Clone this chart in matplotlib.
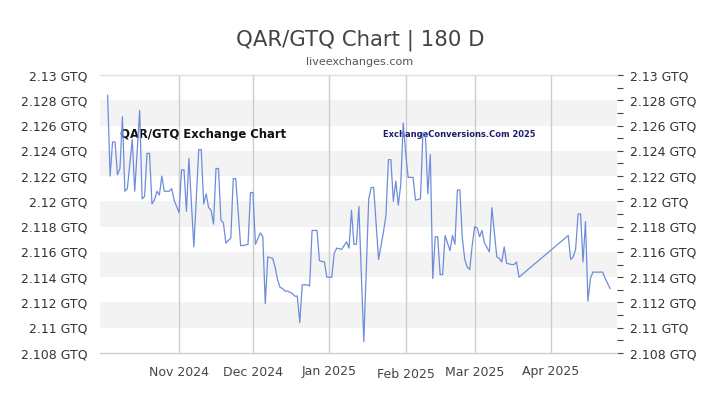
import matplotlib
matplotlib.use('Agg')
import matplotlib.pyplot as plt
import matplotlib.ticker as mticker
import matplotlib.transforms as mtransforms
import pandas as pd

dates = [
    '2024-10-03', '2024-10-04', '2024-10-05', '2024-10-06', '2024-10-07', '2024-10-08', '2024-10-09',
    '2024-10-10', '2024-10-11', '2024-10-13', '2024-10-14', '2024-10-16', '2024-10-17', '2024-10-18',
    '2024-10-19', '2024-10-20', '2024-10-21', '2024-10-22', '2024-10-23', '2024-10-24', '2024-10-25',
    '2024-10-26', '2024-10-28', '2024-10-29', '2024-10-30', '2024-11-01', '2024-11-02', '2024-11-03',
    '2024-11-04', '2024-11-05', '2024-11-07', '2024-11-09', '2024-11-10', '2024-11-11', '2024-11-12',
    '2024-11-13', '2024-11-14', '2024-11-15', '2024-11-16', '2024-11-17', '2024-11-18', '2024-11-19',
    '2024-11-20', '2024-11-22', '2024-11-23', '2024-11-24', '2024-11-26', '2024-11-27', '2024-11-29',
    '2024-11-30', '2024-12-01', '2024-12-02', '2024-12-04', '2024-12-05', '2024-12-06', '2024-12-07',
    '2024-12-09', '2024-12-10', '2024-12-11', '2024-12-12', '2024-12-13', '2024-12-14', '2024-12-15',
    '2024-12-17', '2024-12-18', '2024-12-19', '2024-12-20', '2024-12-21', '2024-12-23', '2024-12-24',
    '2024-12-25', '2024-12-27', '2024-12-28', '2024-12-30', '2024-12-31', '2025-01-02', '2025-01-03',
    '2025-01-04', '2025-01-06', '2025-01-08', '2025-01-09', '2025-01-10', '2025-01-11', '2025-01-12',
    '2025-01-13', '2025-01-15', '2025-01-17', '2025-01-18', '2025-01-19', '2025-01-21', '2025-01-23',
    '2025-01-24', '2025-01-25', '2025-01-26', '2025-01-27', '2025-01-28', '2025-01-29', '2025-01-30',
    '2025-01-31', '2025-02-01', '2025-02-02', '2025-02-04', '2025-02-05', '2025-02-07', '2025-02-08',
    '2025-02-09', '2025-02-10', '2025-02-11', '2025-02-12', '2025-02-13', '2025-02-14', '2025-02-15',
    '2025-02-16', '2025-02-17', '2025-02-18', '2025-02-19', '2025-02-20', '2025-02-21', '2025-02-22',
    '2025-02-23', '2025-02-24', '2025-02-25', '2025-02-26', '2025-02-27', '2025-02-28', '2025-03-01',
    '2025-03-02', '2025-03-03', '2025-03-04', '2025-03-05', '2025-03-07', '2025-03-08', '2025-03-10',
    '2025-03-11', '2025-03-12', '2025-03-13', '2025-03-14', '2025-03-16', '2025-03-17', '2025-03-18',
    '2025-03-19', '2025-04-08', '2025-04-09', '2025-04-10', '2025-04-11', '2025-04-12', '2025-04-13',
    '2025-04-14', '2025-04-15', '2025-04-16', '2025-04-17', '2025-04-18', '2025-04-22', '2025-04-23',
    '2025-04-25',
]

rates = [
    2.1284, 2.1220, 2.1247, 2.1247, 2.1221, 2.1226, 2.1267,
    2.1208, 2.1210, 2.1249, 2.1208, 2.1272, 2.1202, 2.1204,
    2.1238, 2.1238, 2.1198, 2.1201, 2.1208, 2.1205, 2.1220,
    2.1208, 2.1208, 2.1210, 2.1201, 2.1191, 2.1225, 2.1225,
    2.1192, 2.1234, 2.1164, 2.1241, 2.1241, 2.1198, 2.1206,
    2.1195, 2.1193, 2.1182, 2.1226, 2.1226, 2.1185, 2.1183,
    2.1167, 2.1171, 2.1218, 2.1218, 2.1165, 2.1165, 2.1166,
    2.1207, 2.1207, 2.1166, 2.1175, 2.1172, 2.1119, 2.1156,
    2.1155, 2.1148, 2.1138, 2.1132, 2.1131, 2.1129, 2.1129,
    2.1127, 2.1125, 2.1125, 2.1104, 2.1134, 2.1134, 2.1133,
    2.1177, 2.1177, 2.1153, 2.1152, 2.1140, 2.1140, 2.1159,
    2.1163, 2.1162, 2.1168, 2.1163, 2.1193, 2.1166, 2.1166,
    2.1196, 2.1089, 2.1202, 2.1211, 2.1211, 2.1154, 2.1176,
    2.1189, 2.1233, 2.1233, 2.1200, 2.1216, 2.1197, 2.1213,
    2.1262, 2.1238, 2.1219, 2.1219, 2.1201, 2.1202, 2.1254,
    2.1254, 2.1206, 2.1237, 2.1139, 2.1172, 2.1172, 2.1142,
    2.1142, 2.1173, 2.1167, 2.1161, 2.1173, 2.1166, 2.1209,
    2.1209, 2.1171, 2.1154, 2.1148, 2.1146, 2.1165, 2.1180,
    2.1179, 2.1172, 2.1177, 2.1167, 2.1160, 2.1195, 2.1156,
    2.1155, 2.1152, 2.1164, 2.1151, 2.1150, 2.1150, 2.1152,
    2.1140, 2.1173, 2.1154, 2.1156, 2.1162, 2.1190, 2.1190,
    2.1152, 2.1184, 2.1121, 2.1139, 2.1144, 2.1144, 2.1139,
    2.1131,
]

month_ticks = ['2024-11-01', '2024-12-01', '2025-01-01', '2025-02-01', '2025-03-01', '2025-04-01']
month_labels = ['Nov 2024', 'Dec 2024', 'Jan 2025', 'Feb 2025', 'Mar 2025', 'Apr 2025']

y_ticks = [2.108, 2.110, 2.112, 2.114, 2.116, 2.118, 2.120, 2.122, 2.124, 2.126, 2.128, 2.130]
y_labels = ['2.108 GTQ', '2.11 GTQ', '2.112 GTQ', '2.114 GTQ', '2.116 GTQ', '2.118 GTQ',
            '2.12 GTQ', '2.122 GTQ', '2.124 GTQ', '2.126 GTQ', '2.128 GTQ', '2.13 GTQ']
bands = [(2.110, 2.112), (2.114, 2.116), (2.118, 2.120), (2.122, 2.124), (2.126, 2.128)]

title = 'QAR/GTQ Chart | 180 D'
subtitle = 'liveexchanges.com'
watermark_left = 'QAR/GTQ Exchange Chart'
watermark_right = 'ExchangeConversions.Com 2025'

x = pd.to_datetime(dates)
ref = pd.Timestamp('2024-11-01')

fig = plt.figure(figsize=(7.2, 4.05), dpi=100)
ax = fig.add_axes([100 / 720, 1 - 353 / 405, 517 / 720, 278 / 405])

for lo, hi in bands:
    ax.axhspan(lo, hi, color='#f3f3f3', lw=0, zorder=0)

for t in month_ticks:
    ax.axvline(pd.Timestamp(t), color='#cccccc', lw=1, zorder=1)

ax.plot(x, rates, color='#6d8ddb', lw=0.9, zorder=3)

ax.set_xlim(ref + pd.Timedelta(days=-32.1), ref + pd.Timedelta(days=177.8))
ax.set_ylim(2.108, 2.130)

ax.set_xticks(pd.to_datetime(month_ticks))
ax.set_xticklabels(month_labels)
ax.tick_params(axis='x', length=0, pad=9, labelsize=9, labelcolor='#444444')

ax.set_yticks(y_ticks)
ax.set_yticklabels(y_labels)
ax.yaxis.set_minor_locator(mticker.MultipleLocator(0.001))
ax.tick_params(axis='y', which='both', left=False, right=True, labelleft=True, labelright=True,
               length=4, width=0.8, color='#444444', labelsize=9, labelcolor='#333333', pad=5)
ax.tick_params(axis='y', which='minor', labelleft=False, labelright=False)

for s in ['left', 'right']:
    ax.spines[s].set_visible(False)
ax.spines['bottom'].set_color('#cccccc')
ax.spines['top'].set_color('#dddddd')
ax.spines['bottom'].set_linewidth(1)
ax.spines['top'].set_linewidth(1)

# Feb label sits slightly lower in the reference
lbl = ax.get_xticklabels()[3]
lbl.set_transform(lbl.get_transform() + mtransforms.ScaledTranslation(0, -3 / 100, fig.dpi_scale_trans))

fig.text(0.5, 1 - 40 / 405, title, ha='center', va='center', fontsize=15.3, color='#444444')
fig.text(0.5, 1 - 62 / 405, subtitle, ha='center', va='center', fontsize=8, color='#555555')

ax.text(120 / 720, 1 - 135 / 405, watermark_left, transform=fig.transFigure, ha='left', va='center',
        fontsize=9.3, fontweight='bold', fontstretch='condensed', family='DejaVu Sans',
        color='#111111', zorder=2)
ax.text(383 / 720, 1 - 135 / 405, watermark_right, transform=fig.transFigure, ha='left', va='center',
        fontsize=6.7, fontweight='bold', fontstretch='condensed', family='DejaVu Sans',
        color='#1c1c6b', zorder=2)

fig.savefig('out.png', dpi=100)
